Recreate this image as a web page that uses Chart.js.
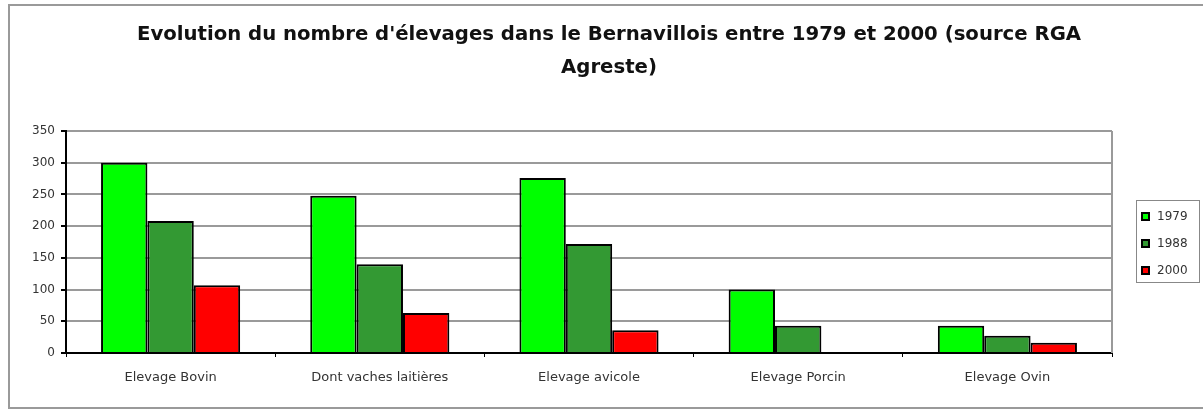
<!DOCTYPE html>
<html>
<head>
<meta charset="utf-8">
<script src="https://cdn.jsdelivr.net/npm/chart.js@4"></script>
<style>
  body { margin: 0; background: #fff; }
  #wrap { width: 1203px; height: 410px; }
</style>
</head>
<body>
<div id="wrap"><canvas id="barChart" width="1203" height="410"></canvas></div>
<script>
// data
const categories = ['Elevage Bovin', 'Dont vaches laitières', 'Elevage avicole', 'Elevage Porcin', 'Elevage Ovin'];
const years = ['1979', '1988', '2000'];
const v1979 = [300, 248, 276, 100, 43];
const v1988 = [208, 140, 172, 43, 27];
const v2000 = [107, 63, 36, 0, 16];
const yTicks = [0, 50, 100, 150, 200, 250, 300, 350];
const barColors = ['#00ff00', '#339933', '#ff0000'];
const titleLines = ['Evolution du nombre d\'élevages dans le Bernavillois entre 1979 et 2000 (source RGA', 'Agreste)'];

const FONT = 'DejaVu Sans, Verdana, sans-serif';

// frame, title, right edge of the plot, and the boxed legend
const framePlugin = {
  id: 'frame',
  beforeDraw(chart) {
    const c = chart.ctx;
    c.save();
    c.fillStyle = '#fff';
    c.fillRect(0, 0, chart.width, chart.height);
    c.strokeStyle = '#9a9a9a';
    c.lineWidth = 2;
    c.strokeRect(9, 5, chart.width + 20, chart.height - 7);

    c.fillStyle = '#111';
    c.font = 'bold 19.7px ' + FONT;
    c.textAlign = 'center';
    c.textBaseline = 'middle';
    titleLines.forEach((t, i) => c.fillText(t, 609, 35 + i * 33));
    c.restore();
  },
  afterDraw(chart) {
    const c = chart.ctx;
    const a = chart.chartArea;
    c.save();
    c.strokeStyle = '#9a9a9a';
    c.lineWidth = 2;
    c.beginPath();
    c.moveTo(a.right, a.top);
    c.lineTo(a.right, a.bottom);
    c.stroke();

    // legend
    const lx = a.right + 24, ly = 200, lw = 63, lh = 82;
    c.lineWidth = 1;
    c.strokeStyle = '#888';
    c.strokeRect(lx + 0.5, ly + 0.5, lw, lh);
    c.font = '12px ' + FONT;
    c.textBaseline = 'middle';
    c.textAlign = 'left';
    chart.data.datasets.forEach((ds, i) => {
      const cy = ly + 17 + i * 27;
      c.fillStyle = ds.backgroundColor;
      c.fillRect(lx + 6, cy - 4, 7, 7);
      c.strokeStyle = '#000';
      c.lineWidth = 2;
      c.strokeRect(lx + 6, cy - 4, 7, 7);
      c.fillStyle = '#333';
      c.fillText(ds.label, lx + 21, cy);
    });
    c.restore();
  }
};

const ctx = document.getElementById('barChart').getContext('2d');
new Chart(ctx, {
  type: 'bar',
  data: {
    labels: categories,
    datasets: [v1979, v1988, v2000].map((d, i) => ({
      label: years[i],
      data: d,
      backgroundColor: barColors[i],
      borderColor: '#000',
      borderWidth: 2,
      borderSkipped: 'bottom',
      categoryPercentage: 0.665,
      barPercentage: 1.0
    }))
  },
  options: {
    responsive: false,
    devicePixelRatio: 1,
    animation: false,
    layout: {
      padding: { left: 0, right: 91, top: 131, bottom: 0 }
    },
    plugins: {
      title: { display: false },
      legend: { display: false },
      tooltip: { enabled: false }
    },
    scales: {
      x: {
        grid: { display: true, drawOnChartArea: false, tickLength: 4, color: '#000', offset: true },
        border: { color: '#000', width: 2 },
        ticks: {
          color: '#333',
          padding: 13,
          font: { family: FONT, size: 13 }
        },
        afterFit: s => { s.height = 57; }
      },
      y: {
        min: 0,
        max: 350,
        afterBuildTicks: s => { s.ticks = yTicks.map(v => ({ value: v })); },
        grid: { color: '#9a9a9a', lineWidth: 2, tickLength: 5, tickColor: '#000' },
        border: { color: '#000', width: 2 },
        ticks: {
          color: '#333',
          padding: 6,
          font: { family: FONT, size: 12 }
        },
        afterFit: s => { s.width = 66; }
      }
    }
  },
  plugins: [framePlugin]
});
</script>
</body>
</html>
